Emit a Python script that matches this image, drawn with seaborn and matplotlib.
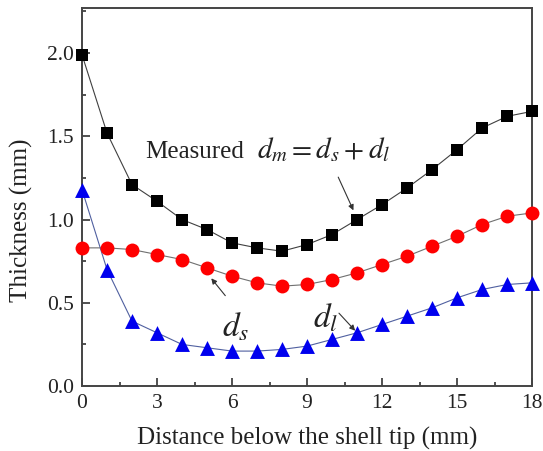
import numpy as np
import pandas as pd
import matplotlib
matplotlib.use("Agg")
import matplotlib.pyplot as plt
import seaborn as sns

distance = list(range(19))
measured = [1.99, 1.52, 1.21, 1.11, 1.00, 0.94, 0.86, 0.83, 0.81, 0.85, 0.91, 1.00,
            1.09, 1.19, 1.30, 1.42, 1.55, 1.62, 1.65]
d_s = [0.83, 0.83, 0.82, 0.79, 0.76, 0.71, 0.66, 0.62, 0.60, 0.61, 0.64, 0.68,
       0.73, 0.78, 0.84, 0.90, 0.97, 1.02, 1.04]
d_l = [1.18, 0.70, 0.39, 0.32, 0.25, 0.23, 0.21, 0.21, 0.22, 0.24, 0.28, 0.32,
       0.37, 0.42, 0.47, 0.53, 0.58, 0.61, 0.62]

sns.set_style("ticks")
plt.rcParams['font.family'] = ['Liberation Serif', 'DejaVu Serif']
plt.rcParams['mathtext.fontset'] = 'stix'

fig = plt.figure(figsize=(5.43, 4.51), dpi=100)
ax = fig.add_axes([0.151, 0.144, 0.829, 0.838])

series = [
    (measured, 'black', 's', '#404040', 75),
    (d_s, '#ff0000', 'o', '#707070', 100),
    (d_l, '#0000ee', '^', '#5060a0', 115),
]
for vals, mc, mk, lc, sz in series:
    sns.lineplot(x=distance, y=vals, ax=ax, color=lc, linewidth=0.8, zorder=2)
    sns.scatterplot(x=distance, y=vals, ax=ax, color=mc, marker=mk, s=sz,
                    edgecolor=mc, linewidth=0, zorder=3, clip_on=False)

ax.set_xlim(0, 18)
ax.set_ylim(0, 2.27)
ax.set_xticks([0, 3, 6, 9, 12, 15, 18])
ax.set_xticks(np.arange(1.5, 18, 3), minor=True)
ax.set_yticks([0.0, 0.5, 1.0, 1.5, 2.0])
ax.set_yticks([0.25, 0.75, 1.25, 1.75, 2.25], minor=True)
ax.set_yticklabels(['0.0', '0.5', '1.0', '1.5', '2.0'])
ax.tick_params(which='both', direction='in', top=False, right=False,
               labelsize=15.5, colors='#333333', labelcolor='#222222', width=1.2)
ax.tick_params(which='major', length=6, pad=6)
ax.tick_params(which='minor', length=3)
for sp in ax.spines.values():
    sp.set_linewidth(1.4)
    sp.set_color('#444444')

ax.set_xlabel('Distance below the shell tip (mm)', fontsize=18, color='#222222', labelpad=10)
ax.set_ylabel('Thickness (mm)', fontsize=18, color='#222222')
ax.yaxis.set_label_coords(-0.108, 0.44)

ax.text(2.52, 1.37, 'Measured', fontsize=18, color='#222222')
ax.text(7.0, 1.37, '$d_m = d_s + d_l$', fontsize=21, color='#222222')
ax.annotate('', xy=(10.9, 1.04), xytext=(10.2, 1.27),
            arrowprops=dict(arrowstyle='-|>', color='#333333', lw=0.8, mutation_scale=8))
ax.text(5.6, 0.30, '$d_s$', fontsize=24, color='#222222')
ax.annotate('', xy=(5.1, 0.66), xytext=(5.8, 0.53),
            arrowprops=dict(arrowstyle='-|>', color='#333333', lw=0.8, mutation_scale=8))
ax.text(9.25, 0.35, '$d_l$', fontsize=24, color='#222222')
ax.annotate('', xy=(11.0, 0.32), xytext=(10.2, 0.45),
            arrowprops=dict(arrowstyle='-|>', color='#333333', lw=0.8, mutation_scale=8))

fig.savefig('out.png', dpi=100)
